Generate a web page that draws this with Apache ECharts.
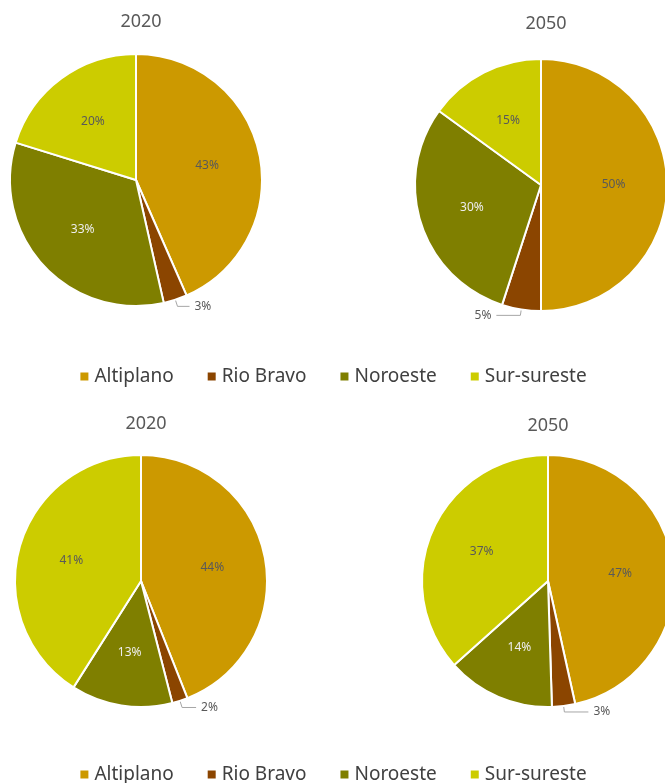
<!DOCTYPE html>
<html>
<head>
<meta charset="utf-8">
<style>
  html, body { margin: 0; padding: 0; background: #ffffff; }
  #chart { width: 665px; height: 783px; }
</style>
<script src="https://cdn.jsdelivr.net/npm/echarts@6/dist/echarts.min.js"></script>
</head>
<body>
<div id="chart"></div>
<script>
// Regions and their shares (%) for each panel
const regions = ['Altiplano', 'Rio Bravo', 'Noroeste', 'Sur-sureste'];
const topShares2020 = [43, 3, 33, 20];
const topShares2050 = [50, 5, 30, 15];
const bottomShares2020 = [44, 2, 13, 41];
const bottomShares2050 = [47, 3, 14, 37];
const panelTitles = ['2020', '2050', '2020', '2050'];

const colors = ['#CC9900', '#8B4500', '#7F7F00', '#CCCC00'];
const labelColors = ['#595959', '#595959', '#eeeeee', '#595959'];
const FONT = '"Noto Sans", "Open Sans", sans-serif';
const R = 126;

const panels = [
  { shares: topShares2020, center: [136, 180], title: [136, 8], lineLen: [7, 12] },
  { shares: topShares2050, center: [541, 185], title: [541, 10], lineLen: [6, 24] },
  { shares: bottomShares2020, center: [141, 581], title: [141, 410], lineLen: [7, 14] },
  { shares: bottomShares2050, center: [548, 581], title: [543, 412], lineLen: [6, 24] }
];

function buildSeries(p) {
  const cx = p.center[0], cy = p.center[1];
  return {
    type: 'pie',
    center: p.center,
    radius: [0, R],
    startAngle: 90,
    clockwise: true,
    animation: false,
    silent: true,
    itemStyle: { borderColor: '#ffffff', borderWidth: 2 },
    labelLine: { show: false },
    data: regions.map((name, i) => {
      const outside = i === 1;
      return {
        name: name,
        value: p.shares[i],
        itemStyle: { color: colors[i] },
        label: {
          show: true,
          position: outside ? 'outside' : 'inside',
          formatter: '{c}%',
          color: outside ? '#595959' : labelColors[i],
          fontFamily: FONT,
          fontSize: 12
        },
        labelLine: outside ? {
          show: true,
          length: p.lineLen[0],
          length2: p.lineLen[1],
          lineStyle: { color: '#a6a6a6', width: 1 }
        } : { show: false }
      };
    }),
    labelLayout: function (params) {
      // push the inside labels slightly away from the centre
      if (params.dataIndex === 1) return {};
      const r = params.labelRect;
      const lx = r.x + r.width / 2, ly = r.y + r.height / 2;
      return { dx: (lx - cx) * 0.1, dy: (ly - cy) * 0.1 };
    }
  };
}

const chart = echarts.init(document.getElementById('chart'), null, { renderer: 'canvas' });

const legendBase = {
  data: regions,
  icon: 'rect',
  itemWidth: 10,
  itemHeight: 10,
  itemGap: 32,
  selectedMode: false,
  textStyle: { fontFamily: FONT, fontSize: 19, color: '#404040' }
};

chart.setOption({
  backgroundColor: '#ffffff',
  title: panels.map((p, i) => ({
    text: panelTitles[i],
    left: p.title[0],
    top: p.title[1],
    textAlign: 'center',
    textStyle: { fontFamily: FONT, fontSize: 18, fontWeight: 'normal', color: '#595959' }
  })),
  legend: [
    Object.assign({}, legendBase, { left: 'center', top: 362 }),
    Object.assign({}, legendBase, { left: 'center', top: 760 })
  ],
  series: panels.map(buildSeries)
});
</script>
</body>
</html>
